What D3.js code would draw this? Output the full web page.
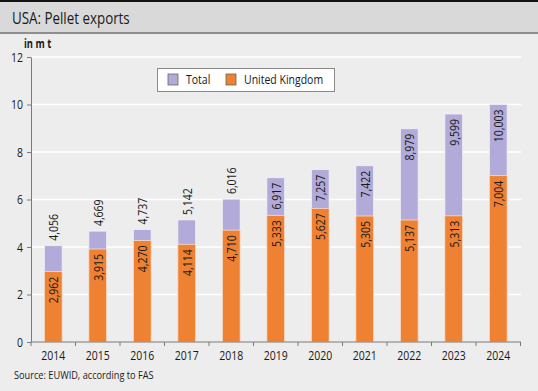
<!DOCTYPE html>
<html><head><meta charset="utf-8">
<script src="https://cdn.jsdelivr.net/npm/d3@7"></script>
<style>
html,body{margin:0;padding:0;background:#ededed;}
svg{display:block;}
text{font-family:"Open Sans",sans-serif;fill:#1a1a1a;}
</style></head>
<body>
<svg id="c" width="538" height="391"></svg>
<script>
const years = ["2014","2015","2016","2017","2018","2019","2020","2021","2022","2023","2024"];
const totalValues = [4.056,4.669,4.737,5.142,6.016,6.917,7.257,7.422,8.979,9.599,10.003];
const ukValues = [2.962,3.915,4.270,4.114,4.710,5.333,5.627,5.305,5.137,5.313,7.004];
const yTicks = [0,2,4,6,8,10,12];
const seriesNames = ["Total","United Kingdom"];
const colors = {"Total":"#b2aad9","United Kingdom":"#ef8132"};

const SX = 0.84; // horizontal condensing to mimic a narrow font
const svg = d3.select("#c");
const W = 538, H = 391;
svg.append("rect").attr("width",W).attr("height",H).attr("fill","#ededed");

function txt(parent, x, y, str, size, sx, extra){
  const t = parent.append("text")
    .attr("transform",`translate(${x},${y}) scale(${sx},1)`)
    .attr("font-size",size).text(str);
  if(extra) extra(t);
  return t;
}

// title bar
svg.append("rect").attr("x",0).attr("y",0).attr("width",W).attr("height",2).attr("fill","#111");
svg.append("rect").attr("x",0).attr("y",2).attr("width",W).attr("height",31).attr("fill","#d9d9d9");
svg.append("rect").attr("x",0).attr("y",32).attr("width",W).attr("height",2).attr("fill","#8e8e8e");
txt(svg,12,24,"USA: Pellet exports",16.5,0.81);

const x = d3.scaleBand().domain(years).range([31,520.5]).paddingInner(0.6).paddingOuter(0.3);
const y = d3.scaleLinear().domain([0,12]).range([342,57]);

// gridlines
svg.append("g").selectAll("line").data(yTicks.filter(d=>d>0)).join("line")
  .attr("x1",32).attr("x2",521).attr("y1",d=>y(d)).attr("y2",d=>y(d))
  .attr("stroke","#ffffff").attr("stroke-width",1.5);

// bars
const g = svg.append("g");
g.selectAll("rect.t").data(years).join("rect").attr("class","t")
  .attr("x",d=>x(d)).attr("width",x.bandwidth())
  .attr("y",(d,i)=>y(totalValues[i])).attr("height",(d,i)=>y(0)-y(totalValues[i]))
  .attr("fill",colors["Total"]).attr("stroke","#f3f1f8").attr("stroke-width",0.8);
g.selectAll("rect.u").data(years).join("rect").attr("class","u")
  .attr("x",d=>x(d)).attr("width",x.bandwidth())
  .attr("y",(d,i)=>y(ukValues[i])).attr("height",(d,i)=>y(0)-y(ukValues[i]))
  .attr("fill",colors["United Kingdom"]).attr("stroke","#f6e0cf").attr("stroke-width",0.8);

const fmt = v => d3.format(",")(Math.round(v*1000));
// UK labels inside
g.selectAll("text.u").data(years).join("text").attr("class","u")
  .attr("transform",(d,i)=>`translate(${x(d)+x.bandwidth()/2},${y(ukValues[i])+5}) rotate(-90) scale(${SX},1)`)
  .attr("text-anchor","end").attr("dominant-baseline","central").attr("font-size",12.5)
  .text((d,i)=>fmt(ukValues[i]));
// Total labels
g.selectAll("text.t").data(years).join("text").attr("class","t")
  .each(function(d,i){
    const seg = y(ukValues[i]) - y(totalValues[i]);
    const inside = seg > 34;
    d3.select(this)
      .attr("transform",`translate(${x(d)+x.bandwidth()/2},${y(totalValues[i])+(inside?5:-5)}) rotate(-90) scale(${SX},1)`)
      .attr("text-anchor",inside?"end":"start");
  })
  .attr("dominant-baseline","central").attr("font-size",12.5)
  .text((d,i)=>fmt(totalValues[i]));

// y axis
const yAxis = d3.axisLeft(y).tickValues(yTicks).tickSize(4).tickSizeOuter(0);
const ya = svg.append("g").attr("transform","translate(31,0)").call(yAxis);
ya.select(".domain").attr("stroke","#7a7a7a");
ya.selectAll(".tick line").attr("stroke","#7a7a7a");
ya.selectAll(".tick text").attr("font-size",12.5).attr("x",null).attr("fill","#1a1a1a")
  .style("font-family",'"Open Sans",sans-serif')
  .attr("transform",`translate(-8,0) scale(${SX},1)`);

// x axis
const xa = svg.append("g").attr("transform","translate(0,342)").call(d3.axisBottom(x).tickSize(0));
xa.select(".domain").remove();
xa.append("line").attr("x1",31).attr("x2",521).attr("y1",0).attr("y2",0).attr("stroke","#7a7a7a");
xa.selectAll(".tick text").attr("font-size",12.5).attr("y",null).attr("fill","#1a1a1a")
  .style("font-family",'"Open Sans",sans-serif')
  .attr("transform",`translate(0,9) scale(${SX},1)`);
const step = x.step();
const bounds = d3.range(years.length+1).map(i=>31+i*step);
xa.selectAll("line.bt").data(bounds).join("line").attr("class","bt")
  .attr("x1",d=>d).attr("x2",d=>d).attr("y1",0).attr("y2",4).attr("stroke","#7a7a7a");

// unit label
txt(svg,24,48,"in m t",11.5,0.82,t=>t.attr("font-weight","bold"));

// legend
const lg = svg.append("g");
lg.append("rect").attr("x",157.5).attr("y",68.5).attr("width",177).attr("height",23)
  .attr("fill","#ffffff").attr("stroke","#8a8a8a");
const legX = [168,226];
seriesNames.forEach((s,i)=>{
  lg.append("rect").attr("x",legX[i]).attr("y",74).attr("width",10).attr("height",11)
    .attr("fill",colors[s]).attr("stroke","#666").attr("stroke-width",0.8);
  txt(lg,legX[i]+18,84,s,12.5,SX);
});

// source
txt(svg,14,379,"Source: EUWID, according to FAS",11.5,0.8);
</script>
</body></html>
